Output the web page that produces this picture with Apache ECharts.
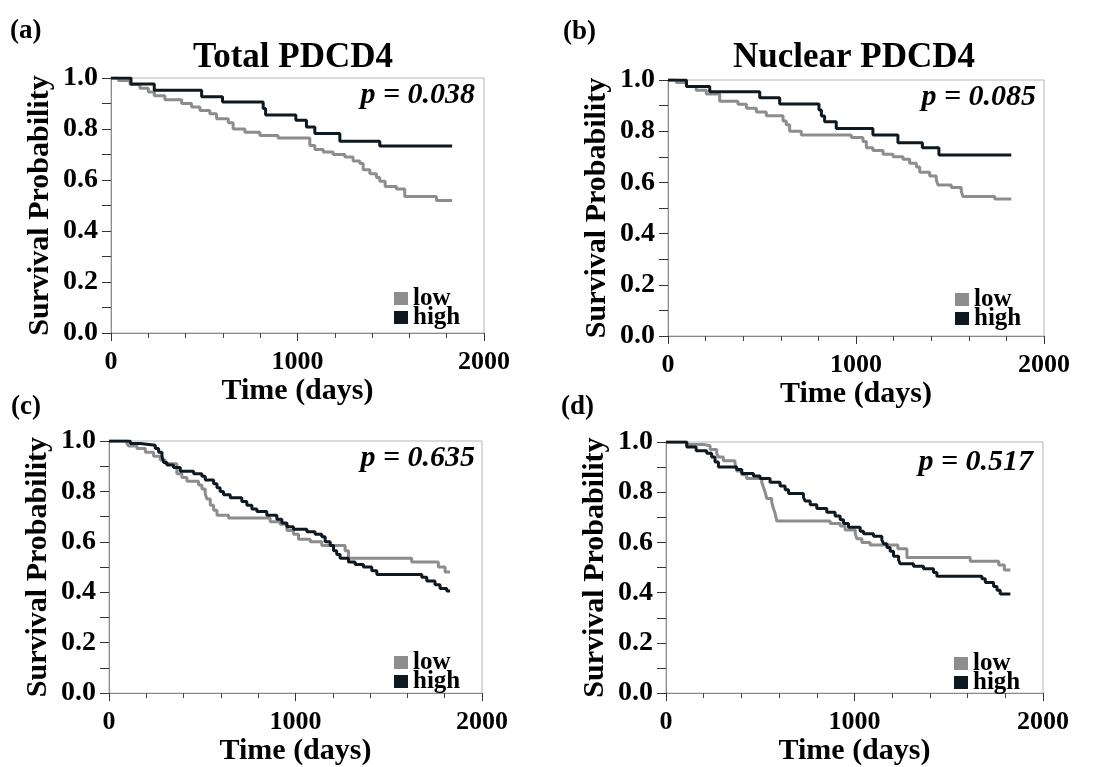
<!DOCTYPE html>
<html><head><meta charset="utf-8">
<script src="https://cdn.jsdelivr.net/npm/echarts@6/dist/echarts.min.js"></script>
<style>html,body{margin:0;padding:0;background:#fff}#c{width:1096px;height:767px}</style>
</head><body><div id="c"></div>
<script>
// ---- data (time in days, survival probability) ----
const xTicks = [0, 1000, 2000];
const yTicks = [0, 0.2, 0.4, 0.6, 0.8, 1.0];
const panelLabels = ['(a)', '(b)', '(c)', '(d)'];
const panelTitles = ['Total PDCD4', 'Nuclear PDCD4', '', ''];
const pValues = ['p = 0.038', 'p = 0.085', 'p = 0.635', 'p = 0.517'];
const groups = ['low', 'high'];

const aLowT = [0,40,102,155,200,232,289,379,432,477,530,566,629,655,718,798,896,1066,1093,1138,1191,1254,1298,1334,1352,1388,1423,1441,1470,1530,1575,1745,1829];
const aLowS = [1.0,0.99,0.975,0.96,0.945,0.93,0.915,0.9,0.886,0.873,0.86,0.84,0.825,0.8,0.787,0.775,0.765,0.735,0.72,0.71,0.7,0.69,0.675,0.665,0.64,0.625,0.61,0.595,0.575,0.565,0.535,0.52,0.52];
const aHighT = [0,107,232,486,598,816,829,991,1048,1093,1227,1441,1829];
const aHighS = [1.0,0.976,0.952,0.926,0.906,0.88,0.855,0.834,0.808,0.782,0.752,0.733,0.733];

const bLowT = [0,44,98,150,204,275,372,417,470,523,612,629,647,709,975,1037,1055,1090,1144,1197,1250,1285,1321,1339,1392,1427,1436,1507,1560,1569,1738,1826];
const bLowS = [1.0,0.99,0.975,0.96,0.945,0.917,0.905,0.89,0.875,0.86,0.84,0.825,0.80,0.785,0.775,0.76,0.735,0.725,0.71,0.70,0.69,0.675,0.66,0.64,0.625,0.61,0.59,0.58,0.565,0.545,0.535,0.535];
const bHighT = [0,98,222,488,594,803,816,833,895,1090,1223,1353,1441,1826];
const bHighS = [1.0,0.975,0.954,0.931,0.906,0.883,0.859,0.837,0.811,0.785,0.755,0.735,0.707,0.707];

const cLowT = [0,96,105,150,195,239,275,302,364,391,418,480,498,516,525,543,561,579,641,864,918,954,989,1016,1079,1141,1266,1284,1623,1766,1802,1829];
const cLowS = [1.0,0.99,0.98,0.97,0.955,0.94,0.925,0.91,0.87,0.855,0.84,0.825,0.81,0.79,0.77,0.745,0.725,0.705,0.695,0.68,0.67,0.645,0.63,0.61,0.60,0.585,0.565,0.535,0.52,0.50,0.48,0.48];
const cHighT = [0,114,168,248,266,284,293,311,346,382,454,498,516,561,579,596,614,650,712,739,766,793,846,900,927,954,989,1061,1105,1141,1159,1186,1204,1221,1239,1284,1320,1364,1409,1436,1677,1704,1748,1775,1811,1829];
const cHighS = [1.0,0.99,0.983,0.97,0.955,0.94,0.915,0.905,0.895,0.88,0.87,0.86,0.845,0.83,0.815,0.8,0.787,0.775,0.76,0.745,0.73,0.72,0.705,0.69,0.675,0.66,0.65,0.64,0.63,0.62,0.60,0.585,0.565,0.55,0.535,0.52,0.51,0.50,0.485,0.47,0.46,0.445,0.43,0.415,0.405,0.405];

const dLowT = [0,110,200,234,269,278,304,366,375,402,428,508,517,526,535,561,570,579,588,871,924,950,1004,1012,1039,1083,1230,1278,1614,1765,1795,1827];
const dLowS = [1.0,0.99,0.985,0.97,0.955,0.94,0.925,0.915,0.885,0.87,0.855,0.84,0.82,0.80,0.775,0.76,0.735,0.715,0.685,0.675,0.665,0.65,0.635,0.615,0.60,0.59,0.575,0.54,0.525,0.51,0.49,0.49];
const dHighT = [0,110,160,216,242,260,278,375,402,464,499,552,605,632,650,729,738,765,800,853,897,924,942,968,1030,1048,1101,1145,1154,1172,1189,1207,1234,1242,1313,1366,1419,1437,1676,1694,1738,1756,1773,1827];
const dHighS = [1.0,0.98,0.965,0.955,0.94,0.92,0.9,0.89,0.875,0.865,0.855,0.84,0.825,0.81,0.795,0.78,0.765,0.75,0.735,0.72,0.705,0.69,0.675,0.66,0.645,0.635,0.625,0.61,0.595,0.58,0.565,0.545,0.53,0.515,0.505,0.495,0.48,0.465,0.455,0.44,0.425,0.41,0.395,0.395];

// ---- build ----
const FONT = "'Liberation Serif','Times New Roman',serif";
const GRAY = '#8d8d8d', DARK = '#0e1821';
const pairs = (T, S) => T.map((t, i) => [t, S[i]]);
const panels = [
  {low: pairs(aLowT, aLowS), high: pairs(aHighT, aHighS)},
  {low: pairs(bLowT, bLowS), high: pairs(bHighT, bHighS)},
  {low: pairs(cLowT, cLowS), high: pairs(cHighT, cHighS)},
  {low: pairs(dLowT, dLowS), high: pairs(dHighT, dHighS)}
];
const layout = [
  {left:111, top:78, width:373, height:255, lab:[10,31], title:[293,58], p:[475,95], leg:[394,286]},
  {left:668, top:80, width:376, height:256, lab:[563,32], title:[854,58], p:[1036,97], leg:[955,287]},
  {left:109, top:441, width:373, height:256, lab:[11,407], title:[0,0], p:[475,458], leg:[394,650]},
  {left:666, top:442, width:377, height:256, lab:[561,407], title:[0,0], p:[1033,462], leg:[954,651]}
];
const grid = [], xAxis = [], yAxis = [], series = [], legend = [], graphic = [];
layout.forEach((L, i) => {
  grid.push({left:L.left, top:L.top, width:L.width, height:L.height, show:true, borderColor:'#b5b5b5', borderWidth:1, containLabel:false});
  xAxis.push({type:'value', gridIndex:i, min:xTicks[0], max:xTicks[xTicks.length-1], interval:xTicks[1]-xTicks[0],
    name:'Time (days)', nameLocation:'middle', nameGap:39,
    nameTextStyle:{fontFamily:FONT, fontWeight:'bold', fontSize:30, color:'#000'},
    axisLine:{show:true, lineStyle:{color:'#8a8a8a', width:1}},
    axisTick:{show:true, length:8, lineStyle:{color:'#333'}},
    minorTick:{show:true, splitNumber:5, length:5, lineStyle:{color:'#444'}},
    splitLine:{show:false},
    axisLabel:{fontFamily:FONT, fontWeight:'bold', fontSize:26, color:'#000', margin:16, formatter:v => String(v)}});
  yAxis.push({type:'value', gridIndex:i, min:yTicks[0], max:yTicks[yTicks.length-1], interval:yTicks[1]-yTicks[0],
    name:'Survival Probability', nameLocation:'middle', nameGap:56,
    nameTextStyle:{fontFamily:FONT, fontWeight:'bold', fontSize:30, color:'#000'},
    axisLine:{show:true, lineStyle:{color:'#8a8a8a', width:1}},
    axisTick:{show:true, length:9, lineStyle:{color:'#333'}},
    minorTick:{show:true, splitNumber:2, length:9, lineStyle:{color:'#333'}},
    splitLine:{show:false},
    axisLabel:{fontFamily:FONT, fontWeight:'bold', fontSize:28, color:'#000', margin:13, formatter:v => v.toFixed(1)}});
  series.push({name:groups[0], type:'line', step:'end', xAxisIndex:i, yAxisIndex:i, data:panels[i].low, showSymbol:false, symbol:'none',
    lineStyle:{color:GRAY, width:3}, itemStyle:{color:GRAY}, z:2, animation:false});
  series.push({name:groups[1], type:'line', step:'end', xAxisIndex:i, yAxisIndex:i, data:panels[i].high, showSymbol:false, symbol:'none',
    lineStyle:{color:DARK, width:3}, itemStyle:{color:DARK}, z:3, animation:false});
  legend.push({data:groups, orient:'vertical', left:L.leg[0], top:L.leg[1], icon:'rect', itemWidth:14, itemHeight:13, itemGap:-6, padding:0,
    selectedMode:false, textStyle:{fontFamily:FONT, fontWeight:'bold', fontSize:25, color:'#000', padding:[0,0,0,0]}});
  graphic.push({type:'text', x:L.lab[0], y:L.lab[1], style:{text:panelLabels[i], font:"bold 27px "+FONT, fill:'#000', textVerticalAlign:'middle'}});
  if (panelTitles[i]) graphic.push({type:'text', x:L.title[0], y:L.title[1], style:{text:panelTitles[i], font:"bold 35px "+FONT, fill:'#000', textAlign:'center', textVerticalAlign:'middle'}});
  graphic.push({type:'text', x:L.p[0], y:L.p[1], style:{text:pValues[i], font:"italic bold 30px "+FONT, fill:'#000', textAlign:'right', textVerticalAlign:'middle'}});
});
const chart = echarts.init(document.getElementById('c'), null, {renderer:'canvas'});
chart.setOption({animation:false, backgroundColor:'#fff', grid, xAxis, yAxis, series, legend, graphic});
</script></body></html>
